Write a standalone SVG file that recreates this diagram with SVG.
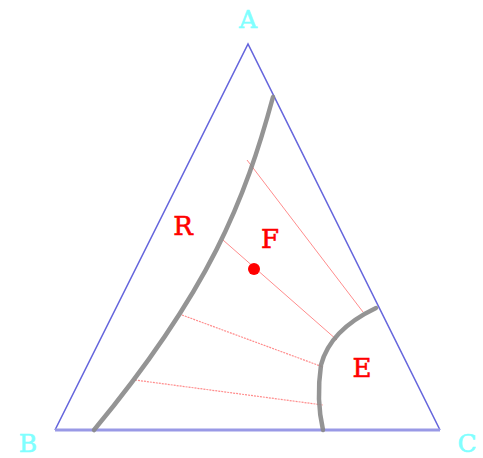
<svg xmlns="http://www.w3.org/2000/svg" width="483" height="458" viewBox="0 0 483 458">
<style>
.vl{font-family:"DejaVu Serif","Liberation Serif",serif;font-size:25px;fill:#80ffff;stroke:#80ffff;stroke-width:0.6;text-anchor:middle}
.rl{font-family:"DejaVu Serif","Liberation Serif",serif;font-size:26px;fill:#ff0000;stroke:#ff0000;stroke-width:0.6;text-anchor:middle}
.side{stroke:#6666dd;stroke-width:1.6;fill:none}
.curve{stroke:#888888;stroke-width:4.5;fill:none;stroke-linecap:round;opacity:0.9}
.tie{stroke:#ff0000;stroke-width:1;opacity:0.45;fill:none}
.tied{stroke:#ff0000;stroke-width:1.2;opacity:0.45;fill:none;stroke-dasharray:2 1}
</style>
<rect width="483" height="458" fill="#ffffff"/>
<g id="triangle">
<path class="side" d="M55,430 L248,44 L440,430"/>
<line x1="55" y1="430" x2="440" y2="430" stroke="#9999e6" stroke-width="3"/>
</g>
<g id="connectors">
<path class="tie" d="M247,160 L363,312"/>
<path class="tie" d="M223,240 L337,340"/>
<path class="tied" d="M182,315 L323,367"/>
<path class="tied" d="M135,380 L323,405"/>
</g>
<g id="raffinate-curve"><path class="curve" d="M273,97 C245,200 210,290 94,430"/></g>
<g id="extract-curve"><path class="curve" d="M376,308 Q330,330 321,365 Q316,400 323,430"/></g>
<g id="feed"><circle cx="254" cy="269" r="6" fill="#ff0000"/></g>
<g id="label-A"><text class="vl" x="248" y="28">A</text></g>
<g id="label-B"><text class="vl" x="28" y="452">B</text></g>
<g id="label-C"><text class="vl" x="467" y="452">C</text></g>
<g id="label-R"><text class="rl" x="183" y="235">R</text></g>
<g id="label-F"><text class="rl" x="270" y="248">F</text></g>
<g id="label-E"><text class="rl" x="362" y="377">E</text></g>
</svg>
